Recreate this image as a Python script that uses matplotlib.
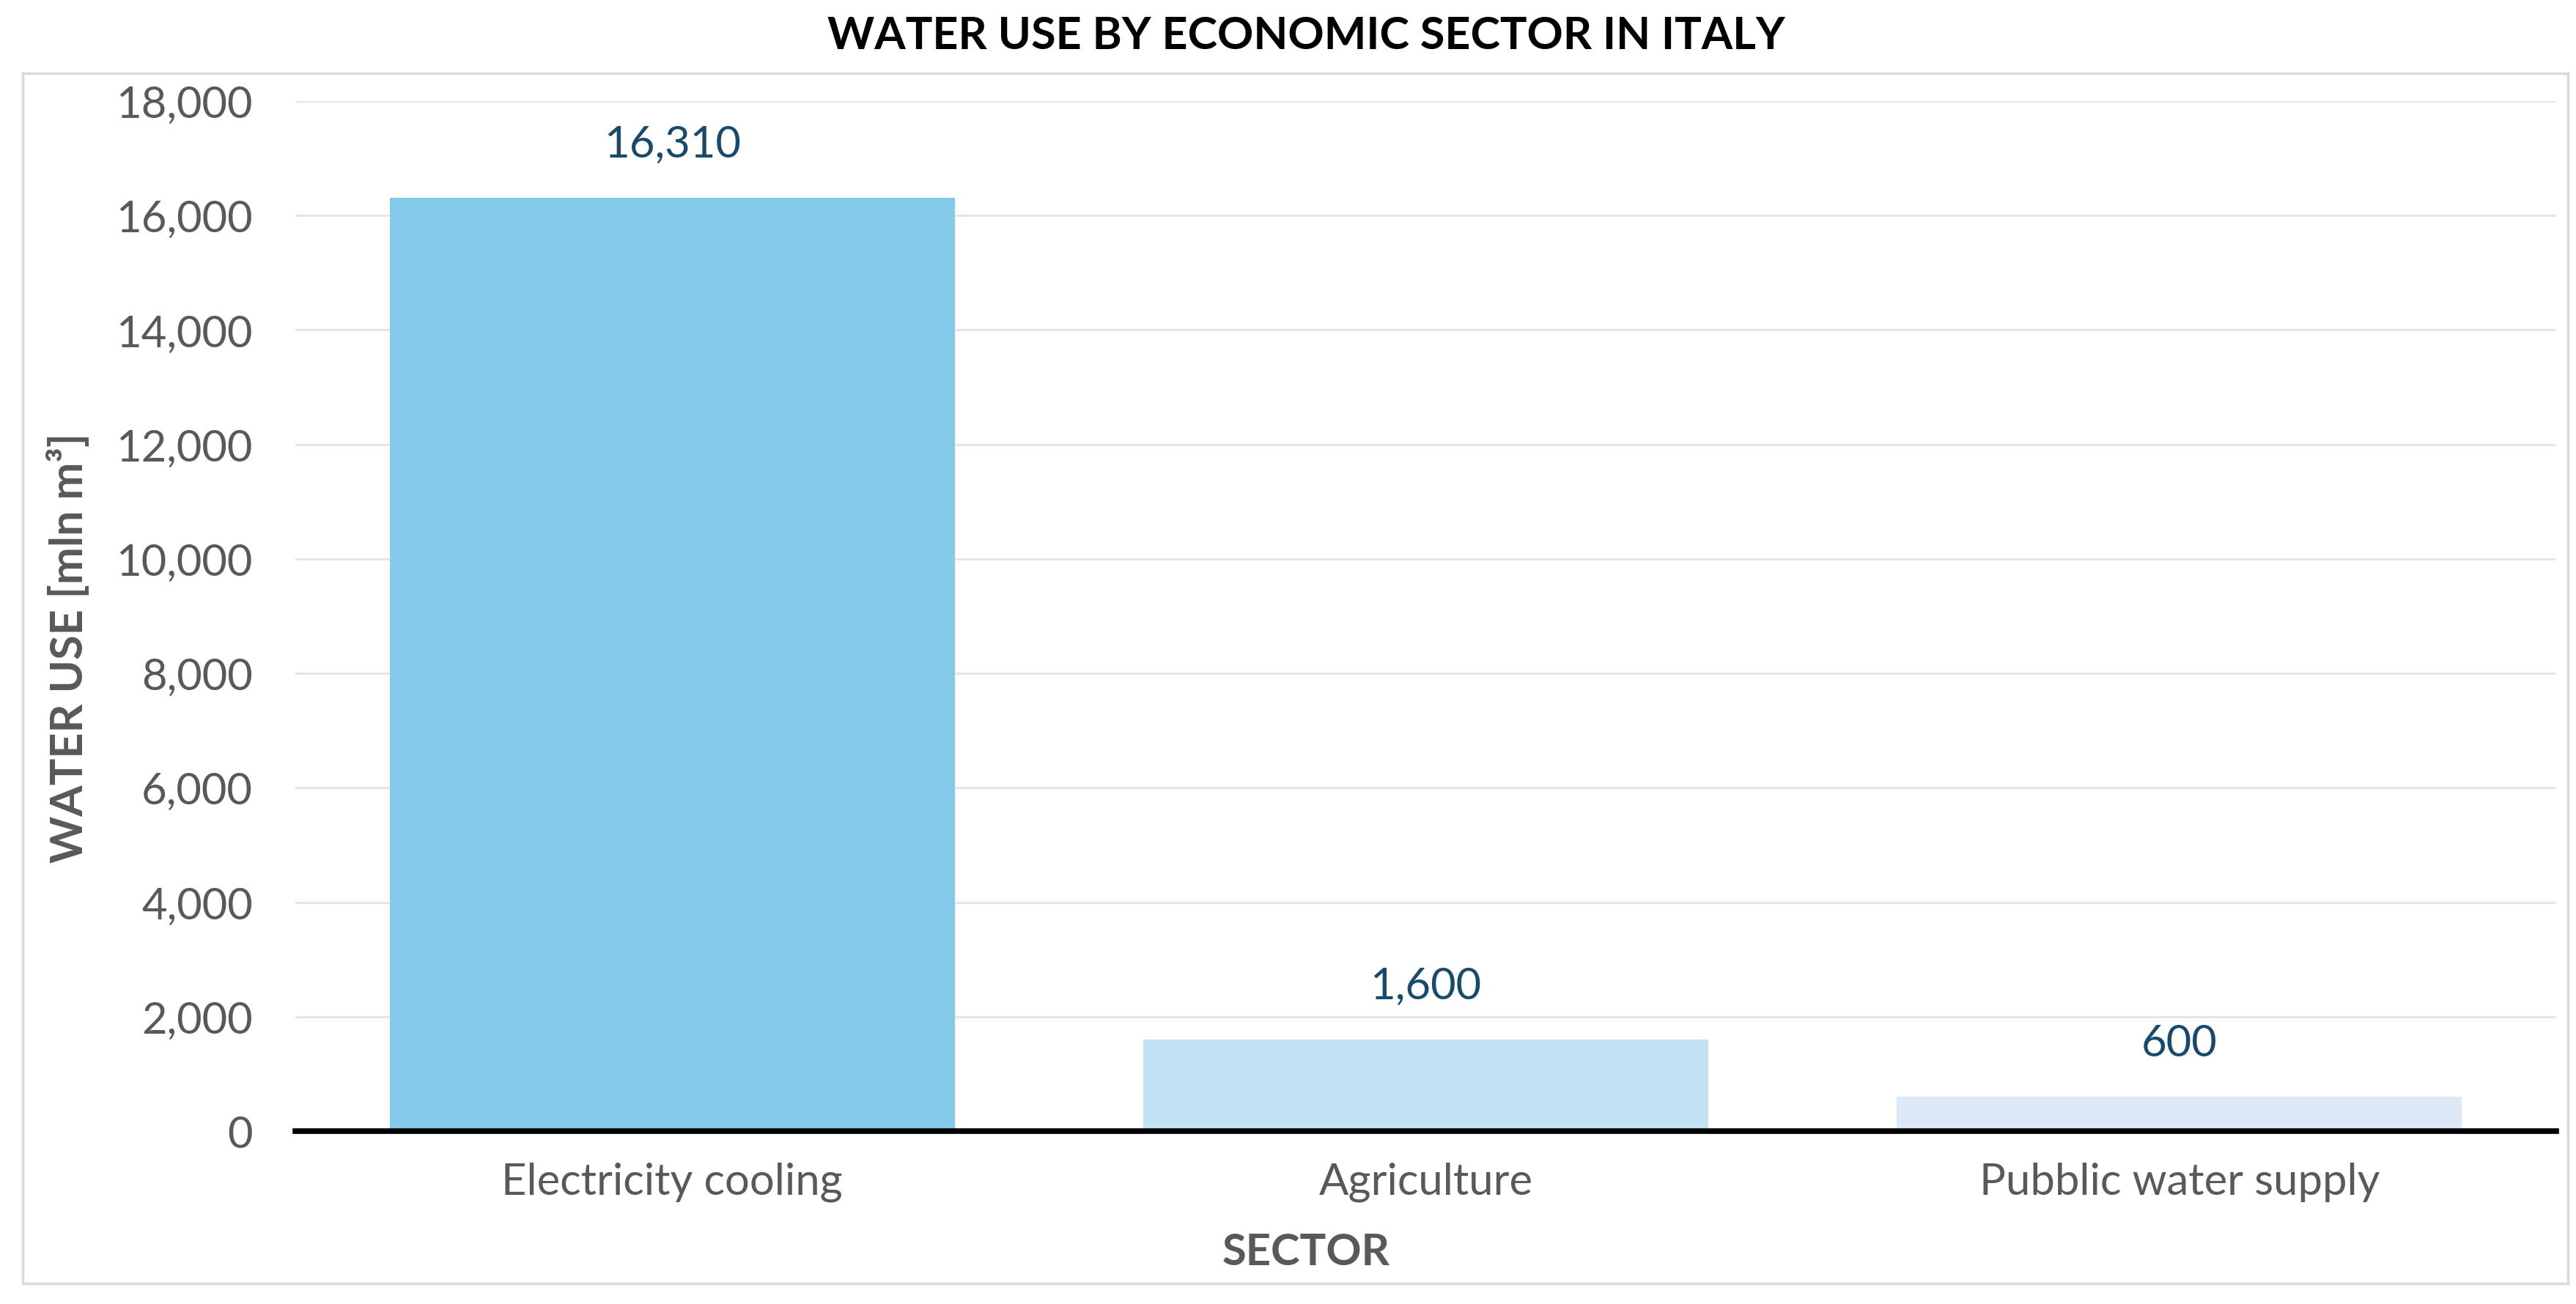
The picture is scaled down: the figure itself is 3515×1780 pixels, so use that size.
import matplotlib
matplotlib.use("Agg")
import matplotlib.pyplot as plt
from matplotlib.patches import Rectangle
from matplotlib.ticker import FuncFormatter, MultipleLocator

# Data
sectors = ["Electricity cooling", "Agriculture", "Pubblic water supply"]
water_use = [16310, 1600, 600]
bar_colors = ["#82C9EA", "#C2E3F4", "#DCE8F6"]

plt.rcParams['font.family'] = ['Lato', 'DejaVu Sans']

W, H = 3515, 1781
dpi = 100
fig = plt.figure(figsize=(W / dpi, H / dpi), dpi=dpi)
fig.patch.set_facecolor("white")

# outer frame
fig.patches.append(Rectangle((31 / W, 1 - 1753 / H), (3504 - 31) / W, (1753 - 101) / H,
                             transform=fig.transFigure, fill=False,
                             edgecolor="#D9D9D9", linewidth=2.5, zorder=0))

left, right = 403 / W, 3488 / W
bottom, top = 1 - 1545 / H, 1 - 139 / H
ax = fig.add_axes([left, bottom, right - left, top - bottom])

x = range(len(sectors))
bars = ax.bar(x, water_use, width=0.75, color=bar_colors, zorder=2)

ax.set_xlim(-0.5, len(sectors) - 0.5)
ax.set_ylim(0, 18000)
ax.yaxis.set_major_locator(MultipleLocator(2000))
ax.yaxis.set_major_formatter(FuncFormatter(lambda v, p: f"{int(v):,}"))
ax.set_xticks(list(x))
ax.set_xticklabels(sectors)

ax.grid(axis="y", color="#E6E6E6", linewidth=2.2, zorder=0)
ax.set_axisbelow(True)
for s in ["top", "right", "left"]:
    ax.spines[s].set_visible(False)
ax.spines["bottom"].set_color("black")
ax.spines["bottom"].set_linewidth(5.5)
ax.spines["bottom"].set_zorder(3)

ax.tick_params(axis="both", length=0, labelsize=43, labelcolor="#595959")
ax.tick_params(axis="y", pad=42)
ax.tick_params(axis="x", pad=30)

for b, v in zip(bars, water_use):
    ax.annotate(f"{v:,}", (b.get_x() + b.get_width() / 2, v),
                xytext=(0, 53), textcoords="offset points",
                ha="center", va="center", fontsize=43, color="#1A4A6B")

fig.text(1782 / W, 1 - 49 / H, "WATER USE BY ECONOMIC SECTOR IN ITALY",
         ha="center", va="center", fontsize=44, fontweight="bold", color="black")
fig.text(1782 / W, 1 - 1710 / H, "SECTOR", ha="center", va="center",
         fontsize=43, fontweight="bold", color="#595959")
fig.text(94 / W, 1 - 885 / H, "WATER USE [mln m³]", ha="center", va="center",
         rotation=90, fontsize=44, fontweight="bold", color="#595959")

fig.savefig("out.png", dpi=dpi, facecolor="white")
